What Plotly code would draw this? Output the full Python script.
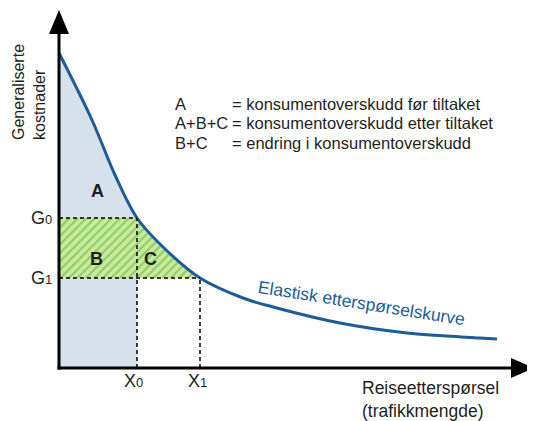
import plotly.graph_objects as go

# ---- data (diagram units) ----
curve_x = [0, 33, 56, 78, 104, 141, 184, 214, 281, 348, 421, 438]
curve_y = [315, 248, 193, 150, 121, 90, 70, 61, 45, 35, 30, 29]
G0, G1 = 150, 90
X0, X1 = 78, 141
area_labels = ["A", "B", "C"]
legend_keys = ["A", "A+B+C", "B+C"]
legend_texts = ["= konsumentoverskudd før tiltaket",
                "= konsumentoverskudd etter tiltaket",
                "= endring i konsumentoverskudd"]
y_title = "Generaliserte<br>kostnader"
x_title = "Reiseetterspørsel<br>(trafikkmengde)"
curve_label = "Elastisk etterspørselskurve"

FONT = "Liberation Sans, Arial, sans-serif"
TXT = "#231f20"
BLUE = "#1c5d99"

ia = curve_x.index(X0)
ib = curve_x.index(X1)

fig = go.Figure()
fig.add_trace(go.Scatter(
    x=curve_x[:ia + 1], y=curve_y[:ia + 1], mode="lines",
    line=dict(width=0, shape="spline"), fill="tozeroy",
    fillcolor="#d6e1eb", hoverinfo="skip", showlegend=False))
fig.add_trace(go.Scatter(
    x=curve_x[ia:ib + 1], y=curve_y[ia:ib + 1], mode="lines",
    line=dict(width=0, shape="spline"), fill="tozerox",
    fillcolor="#c9e99e",
    fillpattern=dict(shape="/", fgcolor="#4fae2b", bgcolor="#c9e99e",
                     size=6, solidity=0.35),
    hoverinfo="skip", showlegend=False))
fig.add_trace(go.Scatter(
    x=curve_x, y=curve_y, mode="lines",
    line=dict(width=3, color=BLUE, shape="spline"),
    hoverinfo="skip", showlegend=False))

dash = dict(color="black", width=1.5, dash="4px,3px")
shapes = [
    dict(type="line", x0=0, x1=X0, y0=G0, y1=G0, line=dash),
    dict(type="line", x0=0, x1=X1, y0=G1, y1=G1, line=dash),
    dict(type="line", x0=X0, x1=X0, y0=0, y1=G0, line=dash),
    dict(type="line", x0=X1, x1=X1, y0=0, y1=G1, line=dash),
    # axes
    dict(type="line", x0=0, x1=0, y0=-1.5, y1=336, line=dict(color="black", width=3)),
    dict(type="line", x0=-1.5, x1=455, y0=0, y1=0, line=dict(color="black", width=3)),
    dict(type="path", path="M 0 358 L -10 334 L 10 334 Z",
         fillcolor="black", line=dict(color="black", width=0)),
    dict(type="path", path="M 475 0 L 452 10 L 452 -10 Z",
         fillcolor="black", line=dict(color="black", width=0)),
]
for s in shapes:
    s["xref"] = "x"
    s["yref"] = "y"

ann = []
def A(x, y, text, size=16, **kw):
    d = dict(x=x, y=y, xref="x", yref="y", text=text, showarrow=False,
             font=dict(family=FONT, size=size, color=kw.pop("color", TXT)))
    d.update(kw)
    ann.append(d)

A(-30, 276, y_title, size=16, textangle=-90, align="left",
  xanchor="center", yanchor="middle")
legend_y = [264, 245, 225]
for k, t, yy in zip(legend_keys, legend_texts, legend_y):
    A(114, yy, k, size=16.5, xanchor="left", yanchor="middle")
    A(171, yy, t, size=16.5, xanchor="left", yanchor="middle")
A(38, 177, "<b>%s</b>" % area_labels[0], size=18)
A(37, 109, "<b>%s</b>" % area_labels[1], size=18)
A(91, 109, "<b>%s</b>" % area_labels[2], size=18)
A(-5, G0, "G<span style='font-size:13px'>0</span>", size=18,
  xanchor="right", yanchor="middle")
A(-5, G1, "G<span style='font-size:13px'>1</span>", size=18,
  xanchor="right", yanchor="middle")
A(X0 - 4, -13, "X<span style='font-size:13px'>0</span>", size=18,
  xanchor="center", yanchor="middle")
A(X1 - 3, -13, "X<span style='font-size:13px'>1</span>", size=18,
  xanchor="center", yanchor="middle")
A(302, -31, x_title, size=17.5, align="left", xanchor="left", yanchor="middle",
  borderpad=0)
A(302, 65, curve_label, size=17.5, color=BLUE, textangle=9,
  xanchor="center", yanchor="middle")

# page body has an 8px margin: figure is 527x413 placed at (8, 8)
fig.update_layout(
    width=527, height=413,
    margin=dict(l=0, r=0, t=0, b=0),
    paper_bgcolor="white", plot_bgcolor="white",
    xaxis=dict(range=[-51, 476], visible=False, fixedrange=True),
    yaxis=dict(range=[-53, 360], visible=False, fixedrange=True),
    shapes=shapes, annotations=ann, showlegend=False,
)
fig.write_html("out.html")
